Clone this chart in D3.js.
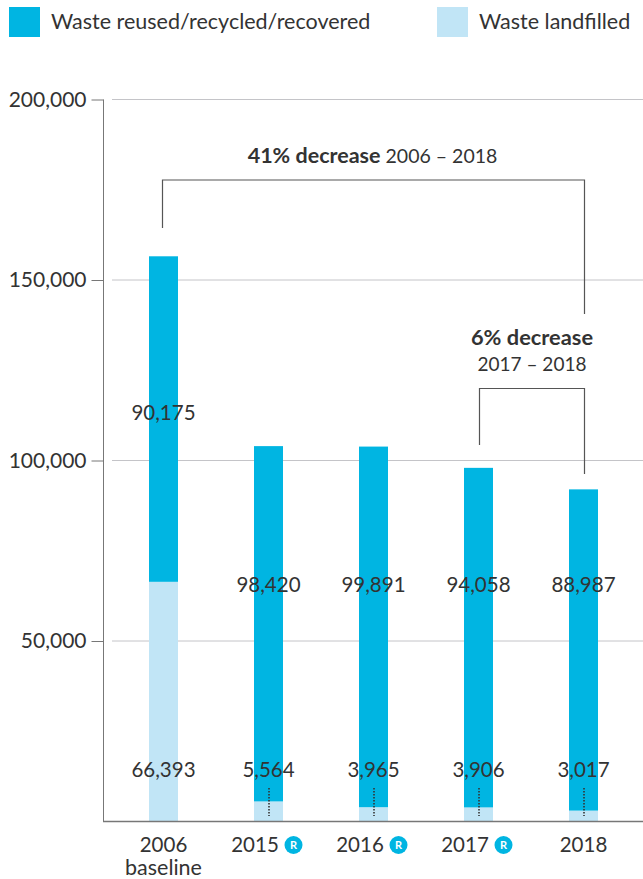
<!DOCTYPE html>
<html>
<head>
<meta charset="utf-8">
<script src="https://cdn.jsdelivr.net/npm/d3@7"></script>
<style>
  html, body { margin: 0; padding: 0; background: #fff; }
  svg { display: block; }
  text { font-family: Lato, "Open Sans", sans-serif; fill: #333; }
</style>
</head>
<body>
<svg id="chart"></svg>
<script>
const categories = ["2006", "2015", "2016", "2017", "2018"];
const subLabels = ["baseline", "", "", "", ""];
const restated = [false, true, true, true, false];
const landfilled = [66393, 5564, 3965, 3906, 3017];
const reused = [90175, 98420, 99891, 94058, 88987];
const yTicks = [50000, 100000, 150000, 200000];
const legendLabels = ["Waste reused/recycled/recovered", "Waste landfilled"];

const width = 643;
const height = 879;
const blue = "#00b5e2";
const lightBlue = "#c1e5f6";

const svg = d3.select("#chart")
  .attr("width", width)
  .attr("height", height)
  .attr("viewBox", `0 0 ${width} ${height}`);

const x = d3.scaleBand().domain(categories).range([111, 636]);
const y = d3.scaleLinear().domain([0, 200000]).range([821.5, 99.5]);
const barWidth = 29;
const cx = d => x(d) + x.bandwidth() / 2;

// Legend
const legendX = [9, 437];
legendLabels.forEach((label, i) => {
  svg.append("rect")
    .attr("x", legendX[i]).attr("y", 7)
    .attr("width", 31).attr("height", 30)
    .attr("fill", i === 0 ? blue : lightBlue);
  svg.append("text")
    .attr("x", legendX[i] + 42).attr("y", 29)
    .attr("font-size", 21.5)
    .text(label);
});

// Gridlines
svg.append("g").selectAll("line")
  .data(yTicks)
  .join("line")
  .attr("x1", 112).attr("x2", width)
  .attr("y1", d => y(d)).attr("y2", d => y(d))
  .attr("stroke", "#c4c4c8").attr("stroke-width", 1);

// Y axis
const yAxis = svg.append("g")
  .attr("transform", "translate(103.5,0)")
  .call(d3.axisLeft(y).tickValues(yTicks).tickSize(12).tickPadding(5).tickFormat(d3.format(",")));
yAxis.selectAll("text").attr("font-size", 21).attr("font-family", "Lato").attr("fill", "#333");
yAxis.selectAll("line").attr("stroke", "#777");
yAxis.select(".domain").attr("stroke", "#777").attr("d", `M0,${y(200000)}V${y(0)}`);

// Bars
const bars = svg.append("g");
bars.selectAll("rect.landfilled")
  .data(categories)
  .join("rect")
  .attr("class", "landfilled")
  .attr("x", d => cx(d) - barWidth / 2)
  .attr("width", barWidth)
  .attr("y", (d, i) => y(landfilled[i]))
  .attr("height", (d, i) => y(0) - y(landfilled[i]))
  .attr("fill", lightBlue);
bars.selectAll("rect.reused")
  .data(categories)
  .join("rect")
  .attr("class", "reused")
  .attr("x", d => cx(d) - barWidth / 2)
  .attr("width", barWidth)
  .attr("y", (d, i) => y(landfilled[i] + reused[i]))
  .attr("height", (d, i) => y(landfilled[i]) - y(landfilled[i] + reused[i]))
  .attr("fill", blue);

// X axis line
svg.append("line")
  .attr("x1", 103).attr("x2", width)
  .attr("y1", y(0)).attr("y2", y(0))
  .attr("stroke", "#777").attr("stroke-width", 1.5);

// Dotted leaders for the small landfill values
svg.append("g").selectAll("line")
  .data(categories.slice(1))
  .join("line")
  .attr("x1", d => cx(d) + 0.5).attr("x2", d => cx(d) + 0.5)
  .attr("y1", 788).attr("y2", 816)
  .attr("stroke", "#333").attr("stroke-width", 1.6)
  .attr("stroke-dasharray", "1.5 1.5");

// Value labels
svg.append("g").selectAll("text")
  .data(categories)
  .join("text")
  .attr("x", cx)
  .attr("y", (d, i) => i === 0 ? 420 : 592)
  .attr("text-anchor", "middle")
  .attr("font-size", 20.5)
  .text((d, i) => d3.format(",")(reused[i]));
svg.append("g").selectAll("text")
  .data(categories)
  .join("text")
  .attr("x", cx)
  .attr("y", 777)
  .attr("text-anchor", "middle")
  .attr("font-size", 20.5)
  .text((d, i) => d3.format(",")(landfilled[i]));

// Category labels, years with a badge sit left of centre to make room
const cat = svg.append("g").selectAll("g")
  .data(categories)
  .join("g");
cat.append("text")
  .attr("x", (d, i) => cx(d) - (restated[i] ? 13.5 : 0))
  .attr("y", 852)
  .attr("text-anchor", "middle")
  .attr("font-size", 20.5)
  .text(d => d);
cat.filter((d, i) => subLabels[i]).append("text")
  .attr("x", cx)
  .attr("y", 875)
  .attr("text-anchor", "middle")
  .attr("font-size", 21.5)
  .text((d, i) => subLabels[i]);

// Restated badges
const badge = cat.filter((d, i) => restated[i]).append("g")
  .attr("transform", d => `translate(${cx(d) + 25},845)`);
badge.append("circle").attr("r", 9).attr("fill", blue);
badge.append("text")
  .attr("text-anchor", "middle").attr("y", 4)
  .attr("font-size", 11).attr("font-weight", 700)
  .style("fill", "#fff")
  .text("R");

// Brackets
const bracket = (xStart, xEnd, topY, startY, endY) => {
  svg.append("path")
    .attr("d", `M${xStart},${startY}V${topY}H${xEnd}V${endY}`)
    .attr("fill", "none")
    .attr("stroke", "#555")
    .attr("stroke-width", 1.2);
};
bracket(cx("2006") - 1, cx("2018") + 1, 180, 228, 314);
bracket(cx("2017") + 1, cx("2018") + 1, 388.5, 445, 474);

const note1 = svg.append("text")
  .attr("x", 372.5).attr("y", 163)
  .attr("text-anchor", "middle");
note1.append("tspan").attr("font-size", 21.5).attr("font-weight", 700).text("41% decrease");
note1.append("tspan").attr("font-size", 19.5).text(" 2006 – 2018");

svg.append("text")
  .attr("x", 532).attr("y", 345)
  .attr("text-anchor", "middle")
  .attr("font-size", 21.8)
  .attr("font-weight", 700)
  .text("6% decrease");
svg.append("text")
  .attr("x", 532).attr("y", 371)
  .attr("text-anchor", "middle")
  .attr("font-size", 19)
  .text("2017 – 2018");
</script>
</body>
</html>
